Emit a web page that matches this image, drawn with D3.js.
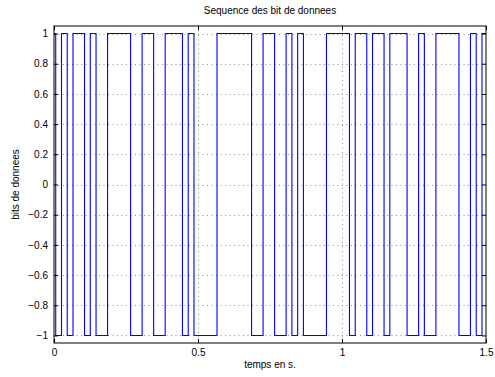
<!DOCTYPE html>
<html>
<head>
<meta charset="utf-8">
<script src="https://cdn.jsdelivr.net/npm/d3@7"></script>
<style>
  html, body { margin: 0; padding: 0; background: #fff; }
  svg text { font-family: "Liberation Sans", Arial, Helvetica, sans-serif; }
</style>
</head>
<body>
<svg id="chart" width="495" height="377"></svg>
<script>
// ---- data ----
const titleText = "Sequence des bit de donnees";
const xLabelText = "temps en s.";
const yLabelText = "bits de donnees";
const bitPeriod = 0.02;      // seconds per bit
const bitOffset = 0.006;     // first bit boundary (s)
// 1 -> +1, 0 -> -1 ; first and last entries are partial bits at the edges
const bits = [1,
  0,1,0,1,1,0,1,0,0,1,1,1,1,0,0,1,1,0,0,1,1,1,0,1,
  0,0,0,0,1,1,1,1,1,1,0,0,1,1,0,0,1,0,1,0,0,0,0,
  1,1,1,1,0,1,1,0,1,1,0,1,1,1,0,0,1,0,0,1,1,1,1,0,0,1,0,
  1];
const xDomain = [0, 1.5];
const yDomain = [-1.05, 1.05];
const xTicks = [0, 0.5, 1, 1.5];
const yTicks = [-1, -0.8, -0.6, -0.4, -0.2, 0, 0.2, 0.4, 0.6, 0.8, 1];

// ---- layout ----
const svg = d3.select("#chart");
const L = 54, R = 486, T = 26, B = 343;
const x = d3.scaleLinear().domain(xDomain).range([L, R]);
const y = d3.scaleLinear().domain(yDomain).range([B, T]);

// grid
const grid = svg.append("g").attr("stroke", "#8c8c8c").attr("stroke-width", 1)
  .attr("stroke-dasharray", "1,3.5").attr("fill", "none");
grid.selectAll("line.gx").data(xTicks.filter(d => d > xDomain[0] && d < xDomain[1]))
  .join("line").attr("x1", d => Math.round(x(d)) + 0.5).attr("x2", d => Math.round(x(d)) + 0.5)
  .attr("y1", T).attr("y2", B);
grid.selectAll("line.gy").data(yTicks)
  .join("line").attr("y1", d => Math.round(y(d)) + 0.5).attr("y2", d => Math.round(y(d)) + 0.5)
  .attr("x1", L).attr("x2", R);

// signal
const pts = bits.map((b, i) => ({
  t: Math.max(xDomain[0], bitOffset + (i - 1) * bitPeriod),
  v: b ? 1 : -1
}));
pts.push({ t: xDomain[1], v: pts[pts.length - 1].v });
const line = d3.line().x(d => x(d.t)).y(d => y(d.v)).curve(d3.curveStepAfter);
svg.append("path").datum(pts).attr("d", line)
  .attr("fill", "none").attr("stroke", "#0000ff").attr("stroke-width", 1.1);

// axes
const fmt = d3.format("");
const ax = svg.append("g").attr("font-size", 10);
const xb = ax.append("g").attr("transform", `translate(0,${B})`)
  .call(d3.axisBottom(x).tickValues(xTicks).tickFormat(fmt).tickSizeInner(-4).tickSizeOuter(0).tickPadding(6));
const xt = ax.append("g").attr("transform", `translate(0,${T})`)
  .call(d3.axisTop(x).tickValues(xTicks).tickFormat("").tickSizeInner(-4).tickSizeOuter(0));
const yl = ax.append("g").attr("transform", `translate(${L},0)`)
  .call(d3.axisLeft(y).tickValues(yTicks).tickFormat(fmt).tickSizeInner(-4).tickSizeOuter(0).tickPadding(6));
const yr = ax.append("g").attr("transform", `translate(${R},0)`)
  .call(d3.axisRight(y).tickValues(yTicks).tickFormat("").tickSizeInner(-4).tickSizeOuter(0));
ax.selectAll(".domain").remove();
ax.selectAll("text").attr("fill", "#000").attr("font-family", "Liberation Sans, Arial, sans-serif");
ax.selectAll(".tick line").attr("stroke", "#000");

// box
svg.append("rect").attr("x", L).attr("y", T).attr("width", R - L).attr("height", B - T)
  .attr("fill", "none").attr("stroke", "#000").attr("stroke-width", 1);

// labels
svg.append("text").attr("x", (L + R) / 2).attr("y", 14).attr("text-anchor", "middle")
  .attr("font-size", 10).text(titleText);
svg.append("text").attr("x", (L + R) / 2).attr("y", 368).attr("text-anchor", "middle")
  .attr("font-size", 10).text(xLabelText);
svg.append("text").attr("transform", `translate(19,${(T + B) / 2}) rotate(-90)`)
  .attr("text-anchor", "middle").attr("font-size", 10).text(yLabelText);
</script>
</body>
</html>
